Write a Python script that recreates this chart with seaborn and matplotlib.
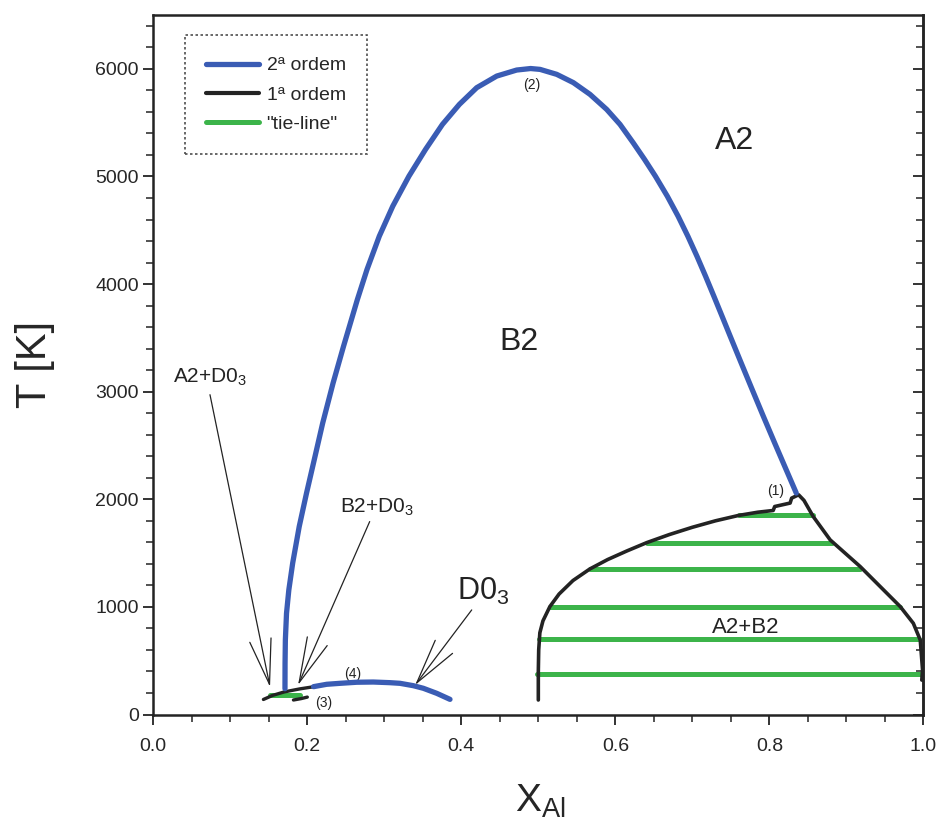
import numpy as np
import pandas as pd
import matplotlib
matplotlib.use("Agg")
import matplotlib.pyplot as plt
import seaborn as sns
from matplotlib.ticker import MultipleLocator
from matplotlib.lines import Line2D

# ---------------- data ----------------
# 2nd-order transition line (A2 / B2)
order2_x = [0.1710, 0.1711, 0.1715, 0.1730, 0.1760, 0.1810, 0.1895, 0.1990, 0.2100,
            0.2200, 0.2335, 0.2470, 0.2650, 0.2775, 0.2935, 0.3110, 0.3320, 0.3535,
            0.3755, 0.3975, 0.4200, 0.4460, 0.4719, 0.4900, 0.5023, 0.5239, 0.5455,
            0.5671, 0.5888, 0.6061, 0.6232, 0.6380, 0.6520, 0.6675, 0.6815, 0.6942,
            0.7060, 0.7172, 0.7280, 0.7387, 0.7494, 0.7635, 0.7778, 0.7922, 0.8068,
            0.8210, 0.8350]
order2_T = [240, 476, 693, 941, 1158, 1407, 1747, 2058, 2398,
            2709, 3081, 3421, 3856, 4135, 4445, 4724, 5003, 5251,
            5484, 5670, 5825, 5933, 5989, 6003, 5995, 5949, 5872,
            5763, 5623, 5484, 5313, 5158, 5003, 4817, 4631, 4445,
            4259, 4073, 3887, 3700, 3512, 3266, 3019, 2772, 2526,
            2290, 2058]

# 2nd-order line B2 / D0_3 (label (4))
d03_x = [0.2081, 0.2252, 0.2425, 0.2641, 0.2857, 0.3074, 0.3204, 0.3377, 0.3506,
         0.3681, 0.3853]
d03_T = [259, 281, 290, 300, 302, 296, 290, 268, 244, 197, 141]

# 1st-order boundary of the A2+B2 miscibility gap
gap_x = [0.500, 0.500, 0.5005, 0.502, 0.506, 0.515, 0.527, 0.545, 0.567, 0.590,
         0.615, 0.641, 0.670, 0.700, 0.730, 0.760, 0.785, 0.805, 0.807, 0.827,
         0.829, 0.838, 0.845, 0.857, 0.879, 0.918, 0.944, 0.970, 0.987, 0.996,
         0.999, 0.998]
gap_T = [135, 400, 600, 760, 870, 1003, 1120, 1245, 1353, 1440,
         1520, 1598, 1672, 1740, 1800, 1850, 1880, 1896, 1933, 1965,
         2011, 2042, 1990, 1840, 1623, 1375, 1189, 1003, 848, 693,
         414, 320]

# small 1st-order pieces near (3)
small1_x = [0.143, 0.155, 0.170, 0.190, 0.208]
small1_T = [140, 178, 210, 238, 258]
small2_x = [0.182, 0.192, 0.200]
small2_T = [135, 148, 162]

# tie-lines
tie_T = [1856, 1598, 1353, 1003, 699, 377, 185]
tie_xl = [0.760, 0.641, 0.567, 0.515, 0.501, 0.498, 0.152]
tie_xr = [0.857, 0.881, 0.918, 0.970, 0.994, 1.000, 0.190]

BLUE = "#3a5cb4"
BLACK = "#232323"
GREEN = "#3cb44a"

# ---------------- figure ----------------
sns.set_style("ticks")
plt.rcParams["font.family"] = ["Liberation Sans", "DejaVu Sans"]
plt.rcParams["mathtext.fontset"] = "custom"
plt.rcParams["mathtext.rm"] = "Liberation Sans"
plt.rcParams["mathtext.it"] = "Liberation Sans:italic"

fig = plt.figure(figsize=(9.44, 8.36), dpi=100)
ax = fig.add_axes([0.1624, 0.1453, 0.8157, 0.8367])

tie_df = pd.DataFrame({
    "x": [v for pair in zip(tie_xl, tie_xr) for v in pair],
    "T": [t for t in tie_T for _ in range(2)],
    "tie": [i for i in range(len(tie_T)) for _ in range(2)],
})
sns.lineplot(data=tie_df, x="x", y="T", units="tie", estimator=None, sort=False,
             color=GREEN, lw=3.6, ax=ax, legend=False, zorder=3)

line_kw = dict(sort=False, estimator=None, ax=ax)
sns.lineplot(x=gap_x, y=gap_T, color=BLACK, lw=2.6, zorder=4, **line_kw)
sns.lineplot(x=small1_x, y=small1_T, color=BLACK, lw=2.4, zorder=4, **line_kw)
sns.lineplot(x=small2_x, y=small2_T, color=BLACK, lw=2.4, zorder=4, **line_kw)
sns.lineplot(x=order2_x, y=order2_T, color=BLUE, lw=3.8, zorder=5, **line_kw)
sns.lineplot(x=d03_x, y=d03_T, color=BLUE, lw=3.8, zorder=5, **line_kw)
for ln in ax.lines:
    ln.set_solid_joinstyle("round")
    ln.set_solid_capstyle("round")

ax.set_xlim(0, 1.0)
ax.set_ylim(0, 6500)
ax.xaxis.set_minor_locator(MultipleLocator(0.05))
ax.yaxis.set_major_locator(MultipleLocator(1000))
ax.yaxis.set_minor_locator(MultipleLocator(200))
ax.set_xticks([0, 0.2, 0.4, 0.6, 0.8, 1.0])
ax.set_xticklabels(["0.0", "0.2", "0.4", "0.6", "0.8", "1.0"])
ax.tick_params(axis="both", which="major", direction="out", length=7, width=1.3,
               labelsize=14, color=BLACK)
ax.tick_params(axis="both", which="minor", direction="out", length=5, width=1.1,
               color=BLACK)
ax.tick_params(axis="x", which="major", pad=10)
for s in ax.spines.values():
    s.set_visible(True)
    s.set_linewidth(1.8)
    s.set_color(BLACK)

sec = ax.secondary_yaxis("right")
sec.yaxis.set_major_locator(MultipleLocator(1000))
sec.yaxis.set_minor_locator(MultipleLocator(200))
sec.tick_params(which="both", direction="in", labelright=False, color=BLACK)
sec.tick_params(which="major", length=7, width=1.3)
sec.tick_params(which="minor", length=5, width=1.1)
sec.spines["right"].set_linewidth(1.8)

ax.set_xlabel(r"X$_\mathregular{Al}$", fontsize=28)
ax.xaxis.set_label_coords(0.502, -0.097)
ax.set_ylabel("T [K]", fontsize=30)
ax.yaxis.set_label_coords(-0.128, 0.5)

# ---------------- texts ----------------
ax.text(0.729, 5251, "A2", fontsize=23, ha="left", va="baseline", color=BLACK)
ax.text(0.450, 3391, "B2", fontsize=23, ha="left", va="baseline", color=BLACK)
ax.text(0.725, 755, "A2+B2", fontsize=16, ha="left", va="baseline", color=BLACK)
ax.text(0.0256, 3084, r"A2+D0$_\mathregular{3}$", fontsize=15, ha="left",
        va="baseline", color=BLACK)
ax.text(0.2425, 1874, r"B2+D0$_\mathregular{3}$", fontsize=15, ha="left",
        va="baseline", color=BLACK)
ax.text(0.394, 1065, r"D0$_\mathregular{3}$", fontsize=22, ha="left",
        va="baseline", color=BLACK)
for lab, xx, tt in [("(1)", 0.808, 2079), ("(2)", 0.4917, 5847),
                    ("(3)", 0.2217, 107), ("(4)", 0.259, 377)]:
    ax.text(xx, tt, lab, fontsize=10, ha="center", va="center", color=BLACK)

arrow_kw = dict(arrowstyle="->,head_length=2.5,head_width=0.6", lw=0.9,
                color=BLACK, shrinkA=0, shrinkB=0, mutation_scale=13)
for tip, tail in [((0.1516, 256), (0.0736, 2972)),
                  ((0.188, 274), (0.281, 1793)),
                  ((0.340, 274), (0.4135, 972))]:
    ax.annotate("", xy=tip, xytext=tail, arrowprops=arrow_kw, zorder=6)

# ---------------- legend ----------------
handles = [Line2D([], [], color=BLUE, lw=3.8),
           Line2D([], [], color=BLACK, lw=3.0),
           Line2D([], [], color=GREEN, lw=3.6)]
labels = ["2ª ordem", "1ª ordem", "\"tie-line\""]
leg = ax.legend(handles, labels, loc="upper left", bbox_to_anchor=(0.041, 0.971),
                frameon=True, fancybox=False, edgecolor=BLACK, fontsize=14,
                handlelength=2.7, handletextpad=0.4, borderpad=1.1,
                labelspacing=0.6, borderaxespad=0)
leg.get_frame().set_linestyle((0, (1.5, 1.5)))
leg.get_frame().set_linewidth(1.2)

fig.savefig("out.png", dpi=100)
